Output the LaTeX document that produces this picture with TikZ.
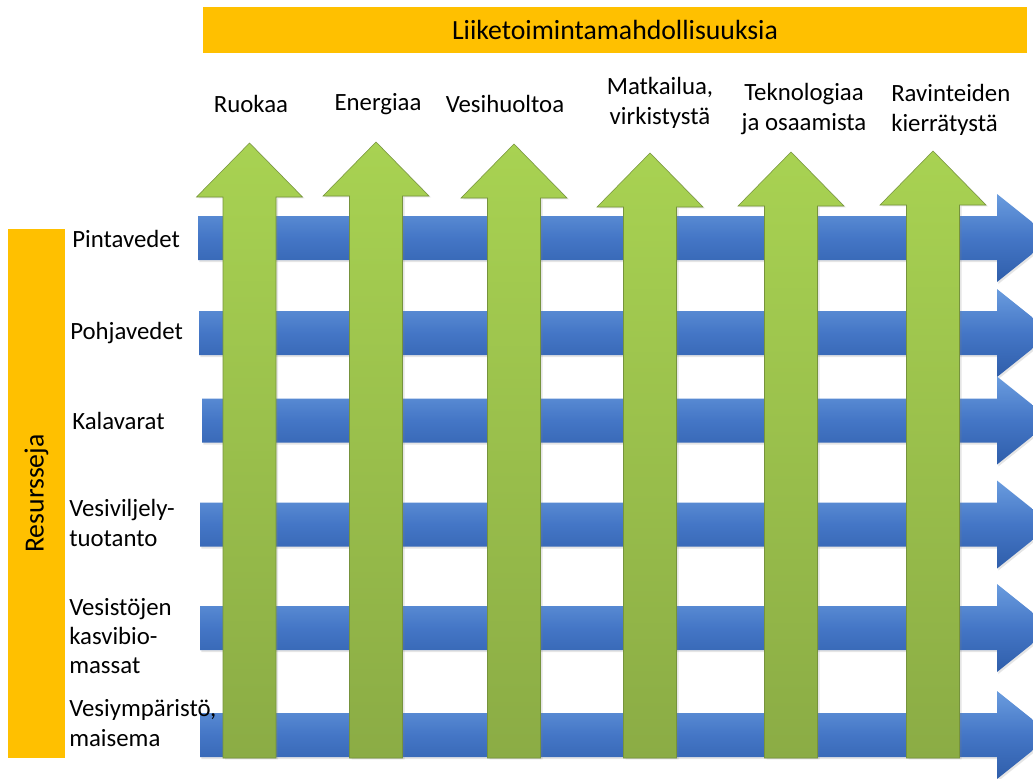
\documentclass[tikz,border=0pt]{standalone}
\usepackage{fontspec}
\setmainfont{Carlito}
\usetikzlibrary{shadows}
\definecolor{gold}{HTML}{FFC000}
\definecolor{bluetop}{HTML}{6A9CDE}
\definecolor{bluemid}{HTML}{4476C6}
\definecolor{bluebot}{HTML}{2F5EAA}
\definecolor{greentop}{HTML}{A8D252}
\definecolor{greenbot}{HTML}{8BAC45}
\definecolor{greenline}{HTML}{76933C}
\begin{document}
\begin{tikzpicture}[x=0.75pt,y=-0.75pt,
    bluearrow/.style = {top color=bluetop,bottom color=bluebot,middle color=bluemid,
        drop shadow={opacity=0.2,shadow xshift=1pt,shadow yshift=-1.5pt}},
    greenarrow/.style = {top color=greentop,bottom color=greenbot,draw=greenline,line width=0.4pt,
        drop shadow={opacity=0.2,shadow xshift=1.5pt,shadow yshift=-1pt}},
    txt/.style = {font=\fontsize{18.6}{22}\selectfont,inner sep=0pt},
    goldbar/.style = {font=\fontsize{20.8}{24}\selectfont,fill=gold,inner sep=0pt}]
                \useasboundingbox (0,0) rectangle (1033,779);
                \fill[white] (0,0) rectangle (1033,779);
                \clip (0,0) rectangle (1033,779);

                \node[goldbar,minimum width=618pt,minimum height=34.5pt]
                    (liike) at (615,30) {Liiketoimintamahdollisuuksia};
                \node[goldbar,rotate=90,minimum width=396.75pt,minimum height=42.75pt]
                    (resurssit) at (36.5,493.5) {Resursseja};

                \path[bluearrow] (198,216) -- ++(799,0) -- ++(0,-22) -- ++(55,44) -- ++(-55,44) -- ++(0,-22) -- ++(-799,0) -- cycle;
                \path[bluearrow] (199,311) -- ++(798,0) -- ++(0,-22) -- ++(55,44) -- ++(-55,44) -- ++(0,-22) -- ++(-798,0) -- cycle;
                \path[bluearrow] (202,398.5) -- ++(795,0) -- ++(0,-22) -- ++(55,44) -- ++(-55,44) -- ++(0,-22) -- ++(-795,0) -- cycle;
                \path[bluearrow] (200,502.5) -- ++(797,0) -- ++(0,-22) -- ++(55,44) -- ++(-55,44) -- ++(0,-22) -- ++(-797,0) -- cycle;
                \path[bluearrow] (200,606) -- ++(797,0) -- ++(0,-22) -- ++(55,44) -- ++(-55,44) -- ++(0,-22) -- ++(-797,0) -- cycle;
                \path[bluearrow] (200,713) -- ++(797,0) -- ++(0,-22) -- ++(55,44) -- ++(-55,44) -- ++(0,-22) -- ++(-797,0) -- cycle;

                \draw[greenarrow] (223,758) -- ++(0,-561) -- ++(-26.5,0) -- ++(53,-54) -- ++(53,54) -- ++(-26.5,0) -- ++(0,561) -- cycle;
                \draw[greenarrow] (349.5,758) -- ++(0,-562) -- ++(-26.5,0) -- ++(53,-54) -- ++(53,54) -- ++(-26.5,0) -- ++(0,562) -- cycle;
                \draw[greenarrow] (487.5,758) -- ++(0,-560) -- ++(-26.5,0) -- ++(53,-54) -- ++(53,54) -- ++(-26.5,0) -- ++(0,560) -- cycle;
                \draw[greenarrow] (623.5,758) -- ++(0,-551) -- ++(-26.5,0) -- ++(53,-54) -- ++(53,54) -- ++(-26.5,0) -- ++(0,551) -- cycle;
                \draw[greenarrow] (764.5,758) -- ++(0,-552) -- ++(-26.5,0) -- ++(53,-54) -- ++(53,54) -- ++(-26.5,0) -- ++(0,552) -- cycle;
                \draw[greenarrow] (906.5,758) -- ++(0,-553) -- ++(-26.5,0) -- ++(53,-54) -- ++(53,54) -- ++(-26.5,0) -- ++(0,553) -- cycle;

                \node[txt] (ruokaa) at (251,104) {Ruokaa};
                \node[txt] (energiaa) at (378,104) {Energiaa};
                \node[txt] (vesihuolto) at (505,104) {Vesihuoltoa};
                \node[txt,align=center] (matkailu) at (660,103) {Matkailua,\\virkistystä};
                \node[txt,align=center] (tekno) at (804,109) {Teknologiaa\\ja osaamista};
                \node[txt,align=left,anchor=west] (ravinteet) at (891,110) {Ravinteiden\\kierrätystä};

                \node[txt,anchor=west] (pinta) at (72,239) {Pintavedet};
                \node[txt,anchor=west] (pohja) at (70,333) {Pohjavedet};
                \node[txt,anchor=west] (kala) at (72,421) {Kalavarat};
                \node[txt,align=left,anchor=west] (viljely) at (69,523) {Vesiviljely-\\tuotanto};
                \node[txt,align=left,anchor=west] (biomassa) at (69,636) {Vesistöjen\\kasvibio-\\massat};
                \node[txt,align=left,anchor=west] (maisema) at (69,723) {Vesiympäristö,\\maisema};
            \end{tikzpicture}
\end{document}
